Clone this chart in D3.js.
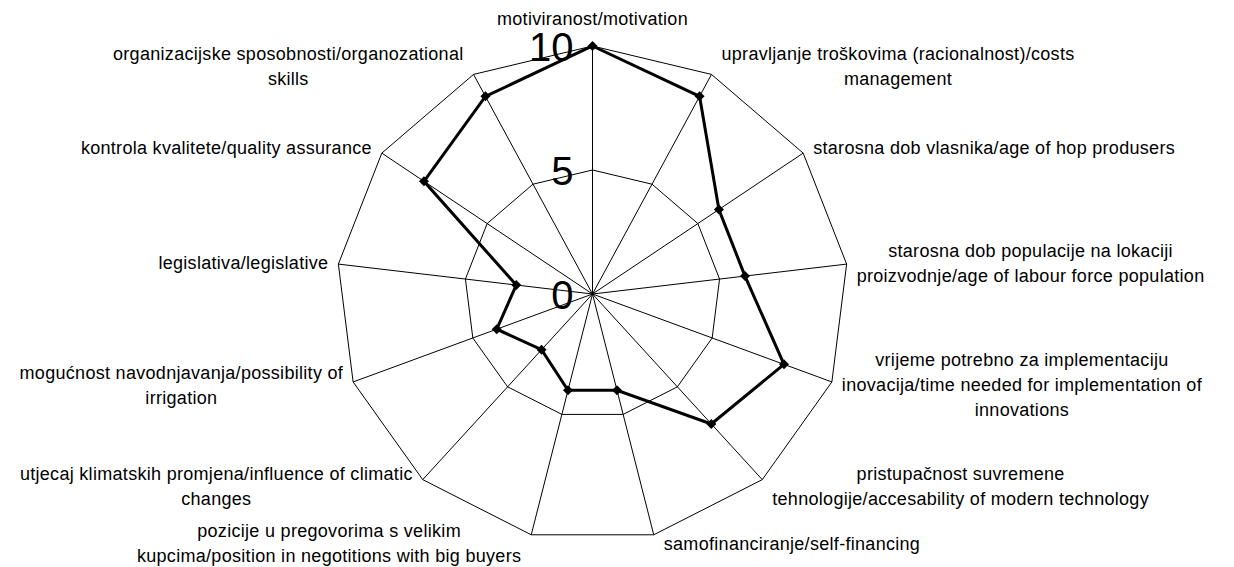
<!DOCTYPE html>
<html>
<head>
<meta charset="utf-8">
<script src="https://cdn.jsdelivr.net/npm/d3@7"></script>
<style>
  html, body { margin: 0; padding: 0; background: #fff; }
  svg { display: block; }
  text { font-family: "Liberation Sans", Arial, sans-serif; fill: #000; }
</style>
</head>
<body>
<div id="chart"></div>
<script>
// axis labels (line breaks as in the original)
const categories = [
    ['motiviranost/motivation'],
    ['upravljanje troškovima (racionalnost)/costs', 'management'],
    ['starosna dob vlasnika/age of hop produsers'],
    ['starosna dob populacije na lokaciji', 'proizvodnje/age of labour force population'],
    ['vrijeme potrebno za implementaciju', 'inovacija/time needed for implementation of', 'innovations'],
    ['pristupačnost suvremene', 'tehnologije/accesability of modern technology'],
    ['samofinanciranje/self-financing'],
    ['pozicije u pregovorima s velikim', 'kupcima/position in negotitions with big buyers'],
    ['utjecaj klimatskih promjena/influence of climatic', 'changes'],
    ['mogućnost navodnjavanja/possibility of', 'irrigation'],
    ['legislativa/legislative'],
    ['kontrola kvalitete/quality assurance'],
    ['organizacijske sposobnosti/organozational', 'skills']
];

const values = [10, 9, 6, 6, 8, 7, 4, 4, 3, 4, 3, 8, 9];

const ringTicks = [5, 10];
const tickLabels = [0, 5, 10];

const width = 1234;
const height = 567;
const cx = 592.5;
const cy = 294;
// the original plot is slightly wider than tall
const radiusX = 256;
const radiusY = 248;

const svg = d3.select('#chart')
    .append('svg')
    .attr('width', width)
    .attr('height', height);

svg.append('rect')
    .attr('width', width)
    .attr('height', height)
    .attr('fill', '#fff');

const g = svg.append('g')
    .attr('transform', `translate(${cx},${cy})`);

const rX = d3.scaleLinear().domain([0, 10]).range([0, radiusX]);
const rY = d3.scaleLinear().domain([0, 10]).range([0, radiusY]);
const angle = d3.scaleLinear().domain([0, categories.length]).range([0, 2 * Math.PI]);

// point on the chart for axis i at value v
function pt(i, v) {
    const a = angle(i);
    return [rX(v) * Math.sin(a), -rY(v) * Math.cos(a)];
}

// grid rings
ringTicks.forEach(t => {
    g.append('path')
        .attr('d', d3.line()(categories.map((c, i) => pt(i, t))) + 'Z')
        .attr('fill', 'none')
        .attr('stroke', '#000')
        .attr('stroke-width', 1);
});

// spokes
g.selectAll('line.spoke')
    .data(categories)
    .enter().append('line')
    .attr('class', 'spoke')
    .attr('x1', 0)
    .attr('y1', 0)
    .attr('x2', (d, i) => pt(i, 10)[0])
    .attr('y2', (d, i) => pt(i, 10)[1])
    .attr('stroke', '#000')
    .attr('stroke-width', 1);

// data line
g.append('path')
    .attr('d', d3.line()(values.map((v, i) => pt(i, v))) + 'Z')
    .attr('fill', 'none')
    .attr('stroke', '#000')
    .attr('stroke-width', 3)
    .attr('stroke-linejoin', 'miter');

// diamond markers
g.selectAll('path.marker')
    .data(values)
    .enter().append('path')
    .attr('class', 'marker')
    .attr('d', d3.symbol().type(d3.symbolSquare).size(50))
    .attr('transform', (d, i) => `translate(${pt(i, d)[0]},${pt(i, d)[1]}) rotate(45)`)
    .attr('fill', '#000');

// scale labels
g.selectAll('text.tick')
    .data(tickLabels)
    .enter().append('text')
    .attr('class', 'tick')
    .attr('x', -19)
    .attr('y', d => -rY(d) + 15)
    .attr('text-anchor', 'end')
    .style('font-size', '40px')
    .text(d => d);

// category labels
const fontSize = 18;
const lineH = 25;
const gap = 10;

categories.forEach((lines, i) => {
    const a = angle(i);
    const s = Math.sin(a);
    const c = Math.cos(a);
    const [vx, vy] = pt(i, 10);

    const t = g.append('text')
        .attr('text-anchor', 'middle')
        .style('font-size', fontSize + 'px')
        .style('letter-spacing', '0.3px');
    const spans = lines.map(l => t.append('tspan').text(l));
    const boxW = d3.max(spans, sp => sp.node().getComputedTextLength());

    let midX;
    if (s > 0.1) midX = vx + gap + boxW / 2;
    else if (s < -0.1) midX = vx - gap - boxW / 2;
    else midX = vx;

    // baseline of the first line
    let firstBase;
    if (c > 0.99) {
        firstBase = vy - 21 - (lines.length - 1) * lineH;
    } else {
        const midY = vy - 9 * c;
        firstBase = midY - (lines.length - 1) * lineH / 2 + 6;
    }

    spans.forEach((sp, k) => {
        sp.attr('x', midX).attr('y', firstBase + k * lineH);
    });
});
</script>
</body>
</html>
